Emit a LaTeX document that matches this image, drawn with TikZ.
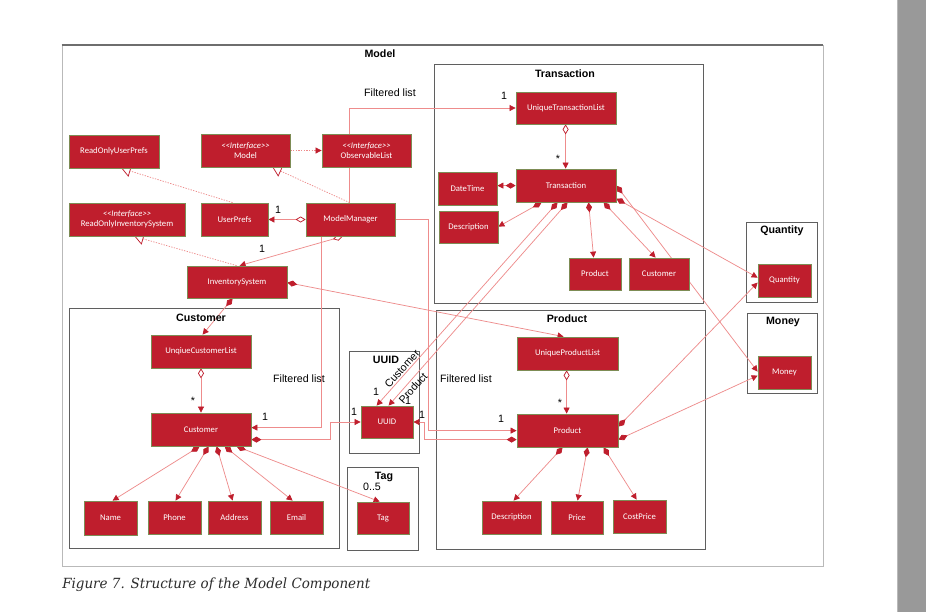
\documentclass[tikz,border=0pt]{standalone}
\usepackage{graphicx}
\usepackage{fontspec}
\setmainfont{Liberation Sans}
\newfontfamily\cf{Carlito}
\newfontfamily\capf{DejaVu Serif}
\usetikzlibrary{arrows.meta,fit,calc}
\pgfdeclarelayer{back}
\pgfdeclarelayer{mid}
\pgfsetlayers{back,mid,main}
\definecolor{boxred}{RGB}{191,30,45}
\definecolor{boxedge}{RGB}{125,140,85}
\definecolor{linered}{RGB}{238,140,140}
\definecolor{framegray}{RGB}{95,95,95}
\definecolor{outergray}{RGB}{185,185,185}
\definecolor{topgray}{RGB}{110,110,110}
\definecolor{bargray}{RGB}{153,153,153}
\definecolor{captiongray}{RGB}{45,45,45}
\begin{document}
\begin{tikzpicture}[x=0.75pt,y=-0.75pt,
  box/.style={draw=boxedge, line width=0.6pt, fill=boxred, text=white, font=\cf\fontsize{6.5}{7.8}\selectfont, inner sep=0pt, align=center},
  atbox/.style n args={4}{at={({(#1+#3)/2},{(#2+#4)/2})}, minimum width={(#3-#1)*0.75pt}, minimum height={(#4-#2)*0.75pt}},
  grp/.style={draw=framegray, line width=0.7pt, inner sep=0pt},
  ttl/.style={font=\bfseries\fontsize{8}{9}\selectfont, inner sep=0pt},
  lbl/.style={font=\fontsize{8}{9}\selectfont, inner sep=0pt},
  conn/.style={draw=linered, line width=0.55pt},
  real/.style={conn, dash pattern=on 1pt off 1pt, -{Triangle[open, length=6.75pt, width=9pt, color=boxred, fill=white]}},
  arr/.style={conn, -{Triangle[length=4.5pt, width=4.5pt, color=boxred]}},
  comp/.style={conn, {Diamond[length=7.5pt, width=4.5pt, color=boxred]}-{Triangle[length=4.5pt, width=4.5pt, color=boxred]}},
  aggr/.style={conn, {Diamond[open, length=7.5pt, width=4.5pt, color=boxred, fill=white]}-{Triangle[length=4.5pt, width=4.5pt, color=boxred]}}
]
\useasboundingbox (0,0) rectangle (926,612);
\begin{pgfonlayer}{back}
\fill[white] (0,0) rectangle (926,612);
% scroll bar
\fill[bargray] (897,0) rectangle (926,612);
\draw[color=outergray, line width=0.6pt] (897.5,0) -- (897.5,612);
% outer model frame
\node[draw=outergray, line width=0.6pt, inner sep=0pt, fit={(62,45) (823,566)}] (modelf) {};
\draw[color=topgray, line width=1.5pt] (modelf.north west) -- (modelf.north east);
% group frames
\node[grp, fit={(434,64) (703,303)}] (trf) {};
\node[grp, fit={(69,308) (339,548)}] (custf) {};
\node[grp, fit={(349,351) (419,453)}] (uuidf) {};
\node[grp, fit={(347,467) (418,550)}] (tagf) {};
\node[grp, fit={(436,310) (705,549)}] (prodf) {};
\node[grp, fit={(746,222) (817,302)}] (qtyf) {};
\node[grp, fit={(747,313) (817,393)}] (moneyf) {};
\end{pgfonlayer}
% titles
\node[ttl] (tmodel) at (380,54) {Model};
\node[ttl] (ttr) at (565,74) {Transaction};
\node[ttl] (tcustf) at (201,318) {Customer};
\node[ttl] (tuuid) at (386,360) {UUID};
\node[ttl] (ttag) at (384,477) {Tag};
\node[ttl] (tprodf) at (567,319) {Product};
\node[ttl] (tqty) at (782,231) {Quantity};
\node[ttl] (tmoney) at (783,322) {Money};
% boxes
\node[box, atbox={69}{135}{159}{168}] (rup) {ReadOnlyUserPrefs};
\node[box, atbox={201}{134}{290}{167}] (imodel) {{\itshape <\kern0pt<Interface>\kern0pt>}\\Model};
\node[box, atbox={322}{134}{411}{167}] (obs) {{\itshape <\kern0pt<Interface>\kern0pt>}\\ObservableList};
\node[box, atbox={69}{203}{185}{236}] (rois) {{\itshape <\kern0pt<Interface>\kern0pt>}\\ReadOnlyInventorySystem};
\node[box, atbox={201}{203}{268}{236}] (up) {UserPrefs};
\node[box, atbox={306}{203}{395}{236}] (mm) {ModelManager};
\node[box, atbox={187}{266}{287}{298}] (inv) {InventorySystem};
\node[box, atbox={516}{92}{616}{124}] (utl) {UniqueTransactionList};
\node[box, atbox={516}{169}{616}{202}] (tr) {Transaction};
\node[box, atbox={438}{172}{497}{205}] (dt) {DateTime};
\node[box, atbox={439}{211}{498}{243}] (tdesc) {Description};
\node[box, atbox={569}{258}{621}{290}] (tprod) {Product};
\node[box, atbox={629}{258}{689}{290}] (tcust) {Customer};
\node[box, atbox={151}{335}{251}{368}] (ucl) {UnqiueCustomerList};
\node[box, atbox={151}{413}{251}{446}] (cust) {Customer};
\node[box, atbox={84}{501}{137}{535}] (name) {Name};
\node[box, atbox={148}{501}{201}{534}] (phone) {Phone};
\node[box, atbox={208}{501}{261}{534}] (addr) {Address};
\node[box, atbox={270}{501}{323}{534}] (email) {Email};
\node[box, atbox={361}{406}{413}{438}] (uuid) {UUID};
\node[box, atbox={357}{502}{409}{534}] (tag) {Tag};
\node[box, atbox={517}{337}{618}{370}] (upl) {UniqueProductList};
\node[box, atbox={517}{414}{618}{447}] (prod) {Product};
\node[box, atbox={482}{501}{541}{534}] (pdesc) {Description};
\node[box, atbox={551}{501}{603}{534}] (price) {Price};
\node[box, atbox={613}{500}{666}{533}] (cost) {CostPrice};
\node[box, atbox={758}{264}{811}{297}] (qty) {Quantity};
\node[box, atbox={758}{356}{811}{389}] (money) {Money};
% connectors, below the boxes
\begin{pgfonlayer}{mid}
\draw[conn, dash pattern=on 1pt off 1pt, -{Triangle[length=4.5pt, width=4.5pt, color=boxred]}] (imodel.east) -- (obs.west);
\draw[real] ($(up.north west)+(32,0)$) -- ($(rup.south west)+(53,0)$);
\draw[real] ($(mm.north west)+(44,0)$) -- ($(imodel.south west)+(72,0)$);
\draw[real] ($(inv.north west)+(50,0)$) -- ($(rois.south west)+(66,0)$);
\draw[aggr] (mm.west) -- (up.east);
\draw[aggr] ($(mm.south west)+(37,0)$) -- ($(inv.north west)+(53,0)$);
\draw[arr] ($(mm.north west)+(44,0)$) |- (utl.west);
\draw[arr] ($(mm.south west)+(16,0)$) |- ($(cust.north east)+(0,15)$);
\draw[arr] (mm.east) -- ++(33,0) |- ($(prod.north west)+(0,17)$);
\draw[comp] ($(cust.north east)+(0,27)$) -- ++(79,0) |- (uuid.west);
\draw[comp] ($(prod.north west)+(0,26)$) -- ++(-92,0) |- (uuid.east);
\draw[comp] ($(tr.south west)+(42,0)$) -- ($(uuid.north west)+(16,0)$);
\draw[comp] ($(tr.south west)+(52,0)$) -- ($(uuid.north west)+(28,0)$);
\draw[comp] ($(tr.south west)+(26,0)$) -- ($(tdesc.north east)+(0,16)$);
\draw[comp] ($(tr.south west)+(73,0)$) -- ($(tprod.north west)+(25,0)$);
\draw[comp] ($(tr.south west)+(88,0)$) -- ($(tcust.north west)+(27,0)$);
\draw[comp] ($(tr.north east)+(0,17)$) -- ($(money.north west)+(0,16)$);
\draw[comp] ($(tr.north east)+(0,30)$) -- ($(qty.north west)+(0,14)$);
\draw[comp] ($(prod.north east)+(0,13)$) -- ($(qty.north west)+(0,19)$);
\draw[comp] ($(prod.north east)+(0,26)$) -- ($(money.north west)+(0,20)$);
\draw[comp] ($(inv.south west)+(46,0)$) -- ($(ucl.north west)+(52,0)$);
\draw[comp] ($(inv.north east)+(0,17)$) -- ($(upl.north west)+(47,0)$);
\draw[aggr] ($(utl.south west)+(50,0)$) -- ($(tr.north west)+(50,0)$);
\draw[comp] ($(tr.north west)+(0,17)$) -- ($(dt.north east)+(0,14)$);
\draw[aggr] (ucl.south) -- (cust.north);
\draw[comp] ($(cust.south west)+(49,0)$) -- ($(name.north west)+(29,0)$);
\draw[comp] ($(cust.south west)+(58,0)$) -- ($(phone.north west)+(28,0)$);
\draw[comp] ($(cust.south west)+(66,0)$) -- ($(addr.north west)+(25,0)$);
\draw[comp] ($(cust.south west)+(74,0)$) -- ($(email.north west)+(23,0)$);
\draw[comp] ($(cust.south west)+(86,0)$) -- ($(tag.north west)+(23,0)$);
\draw[aggr] ($(upl.south west)+(50,0)$) -- ($(prod.north west)+(50,0)$);
\draw[comp] ($(prod.south west)+(46,0)$) -- ($(pdesc.north west)+(32,0)$);
\draw[comp] ($(prod.south west)+(71,0)$) -- ($(price.north west)+(27,0)$);
\draw[comp] ($(prod.south west)+(87,0)$) -- ($(cost.north west)+(24,0)$);
\end{pgfonlayer}
% labels
\node[lbl] (fl1) at (390,93) {Filtered list};
\node[lbl] (fl2) at (299,379) {Filtered list};
\node[lbl] (fl3) at (466,379) {Filtered list};
\node[lbl] (m1) at (504,96) {1};
\node[lbl] (m2) at (558,159) {*};
\node[lbl] (m3) at (278,210) {1};
\node[lbl] (m4) at (262,249) {1};
\node[lbl] (m5) at (193,401) {*};
\node[lbl] (m6) at (265,417) {1};
\node[lbl] (m7) at (354,412) {1};
\node[lbl] (m8) at (376,392) {1};
\node[lbl] (m9) at (408,401) {1};
\node[lbl] (m10) at (422,415) {1};
\node[lbl] (m11) at (501,419) {1};
\node[lbl] (m12) at (560,403) {*};
\node[lbl] (m13) at (372,487) {0..5};
\node[lbl, rotate=48] (lcust) at (402,369) {Customer};
\node[lbl, rotate=48] (lprod) at (413,388) {Product};
% caption
\node[anchor=base west, inner sep=0pt, text=captiongray] (cap) at (62,588) {\resizebox{231pt}{\height}{\capf\itshape\fontsize{10.5}{12}\selectfont Figure 7. Structure of the Model Component}};
\end{tikzpicture}
\end{document}
